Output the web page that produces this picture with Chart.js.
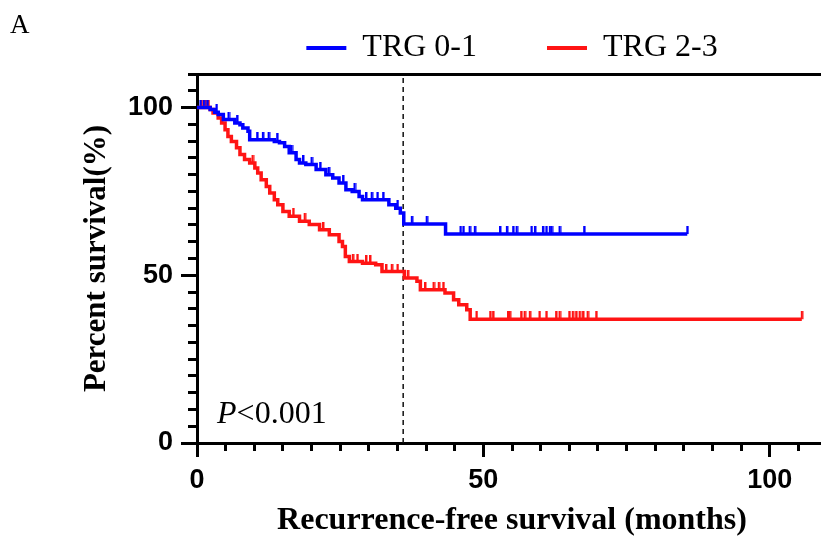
<!DOCTYPE html>
<html>
<head>
<meta charset="utf-8">
<script src="https://cdn.jsdelivr.net/npm/chart.js@4.4.1/dist/chart.umd.min.js"></script>
<style>
html, body { margin: 0; padding: 0; background: #fff; overflow: hidden; }
#wrap { width: 840px; height: 540px; }
</style>
</head>
<body>
<div id="wrap"><canvas id="kmChart" width="840" height="540"></canvas></div>
<script>
// TRG 0-1 : time of each drop (months) and survival (%) after it, last entry = end of follow-up
var blueTimes = [0, 2.3, 3.1, 3.7, 4.6, 6.6, 7.5, 8.0, 8.9, 9.2, 13.5, 14.4, 15.3, 16.1, 17.3, 17.9, 19.0, 20.8, 22.5, 23.7,
                 24.8, 26.0, 27.1, 28.3, 28.9, 33.5, 34.7, 35.5, 36.1, 43.4, 85.6];
var blueSurv = [100, 99.4, 98.6, 97.9, 96.4, 95.4, 94.9, 93.9, 92.9, 90.4, 89.9, 89.5, 88.4, 86.5, 84.5, 83.5, 83.0, 81.5, 80.0, 79.0,
                77.5, 75.5, 75.0, 73.5, 72.5, 71.0, 70.0, 68.6, 65.3, 62.3, 62.3];
var blueCensor = [0.6, 1.2, 1.8, 3.4, 5.5, 7.0, 10.5, 11.5, 12.5, 14.0, 16.5, 18.5, 20.0, 21.5, 23.0, 25.5, 27.5, 29.5, 30.5, 31.5,
                  32.5, 35.0, 37.5, 40.1, 46.0, 46.5, 47.6, 48.5, 52.9, 54.1, 55.2, 55.8, 58.4, 59.0, 60.4, 61.0, 61.6, 61.9,
                  63.3, 67.6, 85.6];

// TRG 2-3
var redTimes = [0, 2.3, 2.8, 3.7, 4.3, 4.9, 5.4, 6.0, 6.9, 7.5, 8.3, 9.2, 10.1, 10.6, 11.2, 12.1, 12.7, 13.5, 14.1, 15.0,
                16.1, 17.9, 19.6, 21.4, 23.1, 24.8, 25.4, 25.9, 26.6, 28.9, 31.2, 32.3, 36.2, 38.4, 39.0, 43.3, 44.8, 45.7,
                47.1, 47.7, 105.6];
var redSurv = [100, 99.4, 98.4, 96.9, 95.4, 93.4, 91.4, 89.9, 88.0, 86.0, 84.5, 83.5, 82.0, 80.5, 78.5, 76.5, 74.5, 72.5, 71.0, 69.0,
               67.6, 66.1, 65.1, 63.6, 62.1, 60.1, 58.6, 55.6, 54.1, 53.6, 53.1, 51.1, 49.2, 48.2, 45.7, 44.7, 42.7, 41.2,
               39.7, 36.9, 36.9];
var redCensor = [0.8, 1.5, 2.0, 9.7, 16.8, 18.8, 22.0, 27.2, 28.0, 29.5, 30.2, 33.0, 34.0, 35.0, 36.8, 39.8, 41.3, 42.2, 43.0,
                 48.8, 51.2, 51.7, 54.3, 54.6, 56.6, 57.2, 58.1, 59.8, 61.0, 62.7, 63.3, 65.0, 65.6, 66.2, 66.8, 67.4, 68.2,
                 69.7, 105.6];

var seriesNames = ['TRG 0-1', 'TRG 2-3'];
var cutoffMonth = 36;
var xMajorTicks = [0, 50, 100];
var yMajorTicks = [0, 50, 100];
var pValueText = ['P', '<0.001'];
var pValueAt = [3.5, 6];   // months, percent

var BLUE = 'rgb(0,0,255)';
var RED = 'rgb(255,20,20)';

function stepPoints(times, surv) {
    return times.map(function (t, i) { return { x: t, y: surv[i] }; });
}

function survivalAt(times, surv, t) {
    var v = surv[0];
    for (var i = 0; i < times.length; i++) {
        if (times[i] <= t) v = surv[i];
    }
    return v;
}

function censorPoints(censor, times, surv) {
    return censor.map(function (t) { return { x: t, y: survivalAt(times, surv, t) }; });
}

// small upward tick used for censored cases
function censorMark(color) {
    var c = document.createElement('canvas');
    c.width = 4;
    c.height = 16;
    var g = c.getContext('2d');
    g.fillStyle = color;
    g.fillRect(1, 0, 2.5, 8);
    return c;
}

function alignPx(p, w) {
    return Math.round(p - w / 2) + w / 2;
}

var extras = {
    id: 'extras',
    afterDraw: function (chart) {
        var ctx = chart.ctx;
        var area = chart.chartArea;
        var xs = chart.scales.x;
        var ys = chart.scales.y;
        ctx.save();
        ctx.strokeStyle = '#000';
        ctx.fillStyle = '#000';
        ctx.lineWidth = 3;

        // top frame line
        var top = alignPx(area.top, 3);
        ctx.beginPath();
        ctx.moveTo(area.left - 9, top);
        ctx.lineTo(chart.width, top);
        ctx.stroke();

        // longer ticks at labelled values
        yMajorTicks.forEach(function (v) {
            var py = alignPx(ys.getPixelForValue(v), 3);
            ctx.beginPath();
            ctx.moveTo(area.left - 8, py);
            ctx.lineTo(area.left - 16, py);
            ctx.stroke();
        });
        xMajorTicks.forEach(function (v) {
            var px = alignPx(xs.getPixelForValue(v), 3);
            ctx.beginPath();
            ctx.moveTo(px, area.bottom + 7);
            ctx.lineTo(px, area.bottom + 14);
            ctx.stroke();
        });

        // p value
        var px0 = xs.getPixelForValue(pValueAt[0]);
        var py0 = ys.getPixelForValue(pValueAt[1]);
        ctx.textBaseline = 'alphabetic';
        ctx.textAlign = 'left';
        ctx.font = 'italic 32px "Liberation Serif"';
        ctx.fillText(pValueText[0], px0, py0);
        var w = ctx.measureText(pValueText[0]).width;
        ctx.font = '32px "Liberation Serif"';
        ctx.fillText(pValueText[1], px0 + w, py0);

        // panel letter
        ctx.font = '27px "Liberation Serif"';
        ctx.fillText('A', 10, 33);
        ctx.restore();
    }
};

var tickFont = { family: 'Liberation Sans', size: 27, weight: 'bold' };

new Chart(document.getElementById('kmChart'), {
    type: 'line',
    data: {
        datasets: [
            {
                label: seriesNames[0],
                data: stepPoints(blueTimes, blueSurv),
                stepped: true,
                borderColor: BLUE,
                backgroundColor: BLUE,
                borderWidth: 3.5,
                pointRadius: 0,
                fill: false
            },
            {
                label: seriesNames[1],
                data: stepPoints(redTimes, redSurv),
                stepped: true,
                borderColor: RED,
                backgroundColor: RED,
                borderWidth: 3.5,
                pointRadius: 0,
                fill: false
            },
            {
                label: 'censored 0-1',
                type: 'scatter',
                data: censorPoints(blueCensor, blueTimes, blueSurv),
                pointStyle: censorMark(BLUE),
                showLine: false
            },
            {
                label: 'censored 2-3',
                type: 'scatter',
                data: censorPoints(redCensor, redTimes, redSurv),
                pointStyle: censorMark(RED),
                showLine: false
            },
            {
                label: 'cutoff',
                data: [{ x: cutoffMonth, y: 0 }, { x: cutoffMonth, y: 110 }],
                borderColor: '#111',
                borderWidth: 1.5,
                borderDash: [5, 4],
                pointRadius: 0,
                fill: false
            }
        ]
    },
    options: {
        responsive: false,
        animation: false,
        events: [],
        layout: { padding: { top: -38, right: 9, bottom: 0, left: 0 } },
        plugins: {
            legend: {
                position: 'top',
                fullSize: false,
                labels: {
                    color: '#000',
                    font: { family: 'Liberation Serif', size: 32 },
                    boxWidth: 40,
                    boxHeight: 4,
                    padding: 70,
                    filter: function (item) { return item.datasetIndex < 2; },
                    generateLabels: function (chart) {
                        return Chart.defaults.plugins.legend.labels.generateLabels(chart).map(function (l) {
                            l.lineWidth = 0;
                            return l;
                        });
                    }
                }
            },
            tooltip: { enabled: false }
        },
        scales: {
            x: {
                type: 'linear',
                min: 0,
                max: 110,
                afterFit: function (scale) { scale.height = 97; },
                border: { color: '#000', width: 3 },
                grid: { drawOnChartArea: false, drawTicks: true, tickLength: 8, tickWidth: 3, tickColor: '#000' },
                ticks: {
                    stepSize: 5,
                    autoSkip: false,
                    maxRotation: 0,
                    padding: 13,
                    color: '#000',
                    font: tickFont,
                    callback: function (v) { return xMajorTicks.indexOf(v) >= 0 ? v : ''; }
                },
                title: {
                    display: true,
                    text: 'Recurrence-free survival (months)',
                    color: '#000',
                    font: { family: 'Liberation Serif', size: 32, weight: 'bold' },
                    padding: { top: 0, bottom: 0 }
                }
            },
            y: {
                min: 0,
                max: 110,
                afterFit: function (scale) { scale.width = 197; },
                border: { color: '#000', width: 3 },
                grid: { drawOnChartArea: false, drawTicks: true, tickLength: 9, tickWidth: 3, tickColor: '#000' },
                ticks: {
                    stepSize: 5,
                    autoSkip: false,
                    padding: 15,
                    color: '#000',
                    font: tickFont,
                    callback: function (v) { return yMajorTicks.indexOf(v) >= 0 ? v : ''; }
                },
                title: {
                    display: true,
                    text: 'Percent survival(%)',
                    color: '#000',
                    font: { family: 'Liberation Serif', size: 31, weight: 'bold' },
                    padding: { top: 78, bottom: 0 }
                }
            }
        }
    },
    plugins: [extras]
});
</script>
</body>
</html>
